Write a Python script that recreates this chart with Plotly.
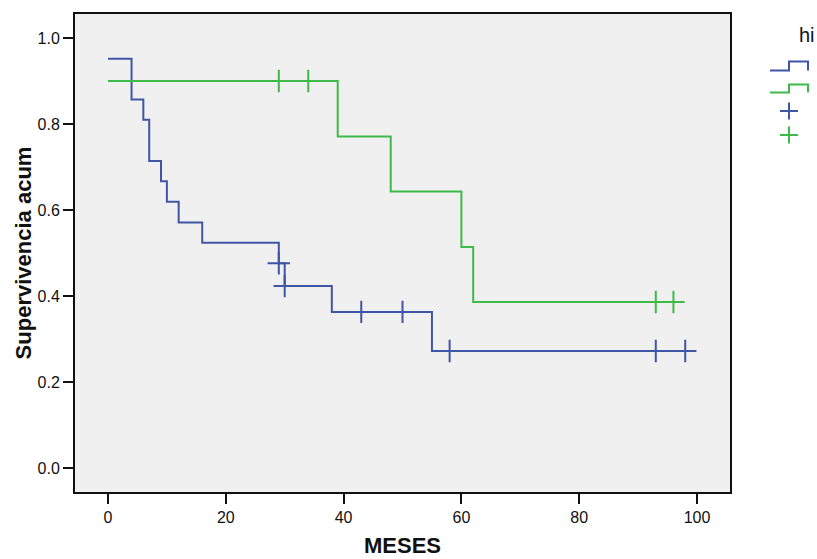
import plotly.graph_objects as go

# Kaplan-Meier step points (time in months, cumulative survival)
blue_times = [0, 4, 6, 7, 9, 10, 12, 16, 29, 30, 38, 55, 98]
blue_surv = [0.952, 0.857, 0.810, 0.714, 0.667, 0.619, 0.571, 0.524, 0.476, 0.423, 0.363, 0.272, 0.272]
blue_cens_times = [29, 30, 43, 50, 58, 93, 98]
blue_cens_surv = [0.476, 0.423, 0.363, 0.363, 0.272, 0.272, 0.272]

green_times = [0, 39, 48, 60, 62, 96]
green_surv = [0.900, 0.771, 0.643, 0.514, 0.386, 0.386]
green_cens_times = [29, 34, 93, 96]
green_cens_surv = [0.900, 0.900, 0.386, 0.386]

x_ticks = [0, 20, 40, 60, 80, 100]
y_ticks = [0.0, 0.2, 0.4, 0.6, 0.8, 1.0]
y_tick_text = ["0.0", "0.2", "0.4", "0.6", "0.8", "1.0"]

BLUE = "#3f55a6"
GREEN = "#3dba47"
FONT = "Liberation Sans, Arial, sans-serif"

W, H = 817, 559
ML, MR, MT, MB = 75, 87, 14, 67
PW, PH = W - ML - MR, H - MT - MB


def px(x):
    return (x - ML) / PW


def py(y):
    return (H - MB - y) / PH


fig = go.Figure()

fig.add_trace(go.Scatter(x=blue_times, y=blue_surv, mode="lines", line_shape="hv",
                         line=dict(color=BLUE, width=2), showlegend=False, hoverinfo="skip"))
fig.add_trace(go.Scatter(x=green_times, y=green_surv, mode="lines", line_shape="hv",
                         line=dict(color=GREEN, width=2), showlegend=False, hoverinfo="skip"))
fig.add_trace(go.Scatter(x=blue_cens_times, y=blue_cens_surv, mode="markers",
                         marker=dict(symbol="cross-thin", size=16, line=dict(color=BLUE, width=2)),
                         showlegend=False, hoverinfo="skip"))
fig.add_trace(go.Scatter(x=green_cens_times, y=green_cens_surv, mode="markers",
                         marker=dict(symbol="cross-thin", size=16, line=dict(color=GREEN, width=2)),
                         showlegend=False, hoverinfo="skip"))

# Legend glyphs drawn at the right of the plot area
shapes = []


def step_glyph(y_low, y_high, color):
    path = (f"M{px(770)},{py(y_low)} L{px(789)},{py(y_low)} L{px(789)},{py(y_high)} "
            f"L{px(808)},{py(y_high)} L{px(808)},{py(y_low)}")
    return dict(type="path", xref="paper", yref="paper", path=path,
                line=dict(color=color, width=2))


def plus_glyph(cy, color):
    return [
        dict(type="line", xref="paper", yref="paper", x0=px(780), x1=px(798), y0=py(cy), y1=py(cy),
             line=dict(color=color, width=2)),
        dict(type="line", xref="paper", yref="paper", x0=px(789), x1=px(789), y0=py(cy - 8.5), y1=py(cy + 8.5),
             line=dict(color=color, width=2)),
    ]


shapes.append(step_glyph(70.5, 61.5, BLUE))
shapes.append(step_glyph(92.5, 84.5, GREEN))
shapes += plus_glyph(111, BLUE)
shapes += plus_glyph(135, GREEN)

fig.update_layout(
    width=W, height=H,
    margin=dict(l=ML, r=MR, t=MT, b=MB, autoexpand=False),
    paper_bgcolor="white",
    plot_bgcolor="#f0f0f0",
    font=dict(family=FONT, color="#111", size=16),
    shapes=shapes,
    annotations=[
        dict(text="hi", xref="paper", yref="paper", x=px(797), y=py(35),
             xanchor="left", yanchor="middle", showarrow=False,
             font=dict(family=FONT, size=20, color="#111")),
    ],
    xaxis=dict(
        range=[-5.6, 105.6], tickvals=x_ticks, ticks="outside", ticklen=10, tickwidth=2,
        tickcolor="#111", showgrid=False, zeroline=False, showline=True, linecolor="#111",
        linewidth=2, mirror=True, tickfont=dict(size=16), automargin=False,
        title=dict(text="<b>MESES</b>", font=dict(size=22), standoff=12),
    ),
    yaxis=dict(
        range=[-0.0558, 1.0558], tickvals=y_ticks, ticktext=y_tick_text, ticks="outside",
        ticklen=10, tickwidth=2, tickcolor="#111", showgrid=False, zeroline=False,
        showline=True, linecolor="#111", linewidth=2, mirror=True, tickfont=dict(size=16),
        automargin=False,
        title=dict(text="<b>Supervivencia acum</b>", font=dict(size=22), standoff=0),
    ),
)

fig.write_html("out.html")
